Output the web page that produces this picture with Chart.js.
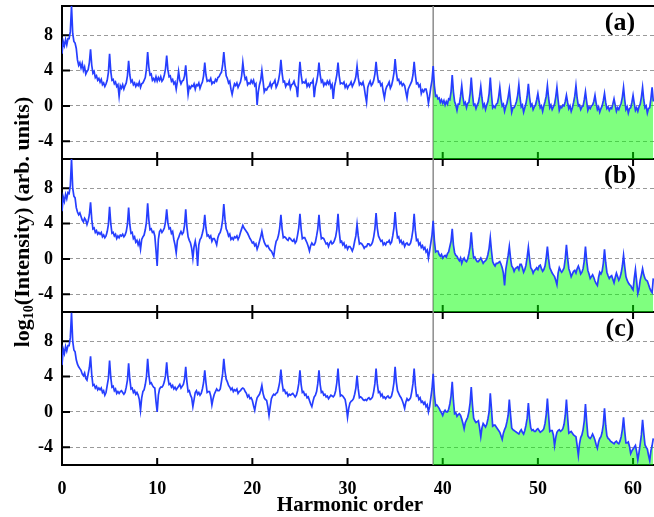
<!DOCTYPE html>
<html>
<head>
<meta charset="utf-8">
<script src="https://cdn.jsdelivr.net/npm/chart.js@4.4.1/dist/chart.umd.min.js"></script>
<style>
  html, body { margin: 0; padding: 0; background: #fff; }
  #hhg { display: block; }
</style>
</head>
<body>
<canvas id="hhg" width="654" height="517"></canvas>
<script>
// spectra sampled every 1/8 harmonic from order 0; one row per harmonic order
var orderStep = 0.125;
var cutoffOrder = 39;

var spectrumA = [
  5.9, 7.3, 6.8, 7.5, 6.9, 7.6, 7.6, 8.4,
  11.3, 8.2, 7.3, 7.1, 6.5, 5.2, 4.6, 4.9,
  4.3, 4.8, 4.0, 4.4, 3.6, 3.9, 4.1, 4.9,
  6.4, 4.6, 3.7, 3.9, 3.2, 3.4, 2.9, 3.1,
  2.7, 3.0, 2.4, 2.6, 2.2, 2.5, 2.9, 3.8,
  5.9, 3.9, 2.9, 3.0, 2.5, 2.7, 2.2, 2.4,
  1.1, 2.3, 2.0, 2.4, 1.9, 2.3, 2.6, 3.4,
  5.1, 3.5, 2.7, 2.9, 2.4, 2.6, 2.2, 2.5,
  2.3, 2.7, 2.1, 2.5, 2.6, 2.9, 3.2, 4.2,
  6.1, 4.4, 3.5, 3.6, 2.9, 3.1, 2.8, 3.3,
  2.8, 3.2, 2.9, 3.3, 2.8, 3.0, 3.5, 4.2,
  5.7, 4.1, 3.3, 3.4, 2.8, 3.0, 2.5, 2.7,
  1.9, 2.8, 3.9, 2.9, 2.5, 2.8, 2.9, 3.4,
  4.6, 2.9, 1.3, 2.2, 2.0, 2.3, 2.2, 2.5,
  1.9, 2.4, 2.3, 2.6, 2.0, 2.4, 2.7, 3.4,
  4.9, 3.5, 2.8, 2.9, 2.8, 3.1, 2.5, 2.7,
  2.6, 3.0, 2.8, 3.2, 3.3, 3.6, 3.8, 4.6,
  6.1, 4.6, 3.4, 3.1, 2.6, 2.8, 1.9, 1.3,
  2.0, 2.5, 2.3, 2.6, 2.1, 2.4, 2.7, 3.4,
  4.9, 3.7, 3.0, 3.2, 2.4, 2.6, 2.5, 2.9,
  2.6, 2.9, 2.3, 2.5, 0.1, 1.6, 2.4, 2.9,
  4.0, 2.8, 1.6, 1.9, 1.8, 2.1, 2.2, 2.6,
  2.1, 2.5, 2.6, 2.9, 2.1, 2.4, 2.9, 3.7,
  5.2, 3.7, 2.7, 2.8, 2.2, 2.5, 2.4, 2.8,
  2.0, 2.4, 2.5, 2.8, 2.3, 2.1, 1.0, 3.2,
  5.0, 3.5, 2.6, 2.7, 2.6, 2.9, 2.2, 2.5,
  2.2, 2.6, 2.6, 2.9, 1.0, 2.2, 2.7, 3.5,
  4.9, 3.5, 2.7, 2.9, 2.3, 2.6, 2.4, 2.8,
  2.5, 2.8, 2.1, 2.4, 0.8, 2.2, 2.8, 3.5,
  4.9, 3.4, 2.5, 2.6, 2.5, 2.7, 2.1, 2.4,
  2.0, 2.3, 2.4, 2.7, 2.2, 2.5, 2.8, 3.3,
  4.5, 3.2, 2.4, 2.6, 2.4, 2.7, 2.1, 1.2,
  0.4, 2.1, 2.5, 2.8, 2.3, 2.5, 2.9, 3.6,
  5.0, 3.6, 2.7, 2.8, 2.3, 2.5, 1.6, 0.9,
  1.8, 2.2, 2.4, 2.7, 2.0, 2.3, 2.9, 3.7,
  5.3, 3.8, 2.9, 3.0, 2.5, 2.7, 2.3, 2.5,
  2.3, 1.6, 0.9, 1.9, 2.2, 2.5, 2.8, 3.5,
  5.0, 3.5, 2.5, 2.6, 2.2, 2.4, 1.4, 1.8,
  1.6, 1.9, 1.9, 1.3, 0.3, 1.1, 2.1, 2.9,
  4.5, 2.3, 1.1, 1.2, 0.8, 0.9, 0.4, 0.7,
  0.3, 0.6, 0.1, 0.5, 0.2, 0.8, 0.7, 1.6,
  3.5, 1.6, 0.5, 0.1, -0.5, 0.2, 0.2, 1.1,
  2.3, 1.0, 0.2, 0.4, -0.2, 0.3, 0.4, 1.4,
  3.2, 1.4, 0.1, 0.2, -0.3, 0.1, 0.4, 1.1,
  2.2, 0.9, -0.1, 0.2, -0.4, 0.1, 0.5, 1.4,
  3.2, 1.3, -0.2, 0.0, -0.2, 0.2, 0.3, 1.0,
  2.1, 0.8, 0.0, 0.2, -0.6, -0.1, 0.3, 1.0,
  1.9, 0.5, -0.7, -0.2, -0.2, 0.1, 0.5, 1.2,
  2.4, 0.9, -0.1, 0.1, -0.7, -0.2, 0.3, 1.1,
  2.5, 1.0, 0.0, 0.2, -0.4, -0.1, 0.1, 0.7,
  1.4, 0.5, -0.2, 0.0, -0.6, 0.0, 0.5, 1.1,
  2.3, 0.9, -0.2, 0.1, -0.4, -0.1, 0.2, 1.0,
  2.1, 0.7, -0.5, -0.1, -0.2, 0.1, 0.0, 0.5,
  1.2, 0.4, -0.3, 0.0, -0.6, -0.2, 0.4, 1.1,
  2.3, 0.9, 0.0, 0.1, -0.4, -0.1, 0.0, 0.7,
  1.6, 0.5, -0.5, -0.1, -0.3, 0.0, 0.1, 0.5,
  1.2, 0.3, -0.4, -0.1, -0.7, -0.3, 0.0, 0.6,
  1.4, 0.4, -0.3, -0.1, -0.5, -0.2, -0.3, 0.2,
  0.8, 0.1, -0.6, -0.2, -0.4, 0.0, 0.3, 1.0,
  2.1, 0.7, -0.4, -0.1, -0.8, -0.3, -0.2, 0.4,
  1.2, 0.3, -0.5, -0.2, -0.6, -0.1, 0.2, 1.0,
  2.1, 0.7, -0.2, 0.0, -0.8, -0.3, -0.2, 0.8,
  2.1, 0.5
];

var spectrumB = [
  5.4, 7.0, 6.5, 7.3, 6.8, 7.5, 7.4, 8.3,
  11.3, 8.0, 7.1, 6.9, 5.8, 5.3, 5.0, 5.2,
  4.8, 4.4, 4.2, 4.6, 4.4, 3.9, 4.3, 5.0,
  6.4, 4.5, 3.4, 3.5, 3.0, 3.2, 2.8, 3.0,
  2.8, 3.0, 2.5, 2.7, 2.4, 2.6, 3.1, 3.9,
  5.9, 4.0, 2.9, 3.0, 2.6, 2.8, 2.3, 2.6,
  2.4, 2.7, 2.6, 2.8, 2.5, 2.7, 3.1, 3.9,
  5.8, 3.9, 2.9, 3.0, 2.3, 2.5, 1.9, 2.1,
  1.6, 2.0, 1.1, 2.2, 2.5, 2.7, 3.3, 4.2,
  6.3, 4.4, 3.3, 3.4, 3.0, 3.1, 2.6, 1.0,
  -0.8, 2.2, 3.1, 3.3, 3.0, 3.2, 3.5, 4.2,
  5.6, 4.1, 3.4, 3.5, 2.9, 3.1, 2.2, 1.6,
  0.7, 2.1, 2.4, 2.8, 3.1, 2.8, 3.0, 3.8,
  5.6, 3.6, 2.5, 2.1, 1.8, 1.2, 0.1, 1.4,
  2.0, 1.2, -0.8, 1.6, 2.2, 2.4, 2.9, 3.5,
  5.0, 3.5, 2.6, 2.7, 2.4, 2.6, 2.0, 2.3,
  2.3, 2.0, 1.6, 2.4, 2.8, 3.0, 3.5, 4.4,
  6.2, 4.5, 3.4, 3.1, 2.6, 2.8, 2.2, 2.4,
  2.2, 2.5, 2.4, 2.6, 2.2, 2.5, 3.0, 3.4,
  3.8, 3.5, 3.3, 3.1, 2.9, 2.6, 2.3, 2.1,
  1.8, 1.9, 1.5, 1.7, 1.1, 1.5, 2.0, 2.5,
  3.1, 2.4, 1.9, 1.6, 1.4, 1.5, 1.2, 1.0,
  0.9, 0.6, 0.3, 1.3, 2.0, 2.2, 2.7, 3.5,
  5.0, 3.4, 2.4, 2.5, 2.4, 2.2, 2.1, 2.4,
  2.3, 2.1, 2.0, 2.2, 1.8, 2.0, 2.7, 3.5,
  5.1, 3.4, 2.3, 2.4, 2.4, 2.1, 1.8, 1.4,
  0.9, 1.5, 1.8, 1.6, 1.6, 1.9, 2.6, 3.4,
  5.0, 3.3, 2.3, 2.4, 2.3, 2.0, 1.7, 1.8,
  1.4, 1.8, 2.0, 1.7, 1.8, 2.1, 2.5, 3.3,
  5.1, 3.1, 1.9, 2.0, 1.6, 1.8, 1.3, 1.5,
  1.1, 1.4, 1.4, 1.2, 0.9, 1.3, 2.0, 2.6,
  3.9, 2.6, 1.7, 1.8, 1.7, 1.5, 1.2, 1.4,
  1.4, 1.7, 1.7, 1.5, 1.6, 1.9, 2.5, 3.4,
  5.2, 3.5, 2.6, 2.3, 2.0, 2.1, 1.6, 1.8,
  1.6, 1.9, 1.9, 2.1, 1.7, 1.9, 2.6, 3.5,
  5.3, 3.5, 2.4, 2.5, 1.9, 2.1, 1.7, 1.9,
  1.4, 1.7, 1.8, 1.6, 1.6, 1.8, 2.4, 3.3,
  5.1, 3.2, 2.1, 2.2, 1.6, 1.8, 1.3, 1.5,
  1.1, 1.3, 0.8, 1.0, 0.1, 0.9, 1.8, 2.7,
  4.3, 2.1, 0.8, 0.9, 0.9, 0.5, 0.3, 0.5,
  0.1, 0.3, 0.4, 0.2, 0.6, 0.8, 1.4, 2.0,
  3.4, 1.6, 0.7, 0.4, 0.3, 0.0, -0.2, 0.1,
  -0.5, -0.1, 0.1, -0.2, -0.3, 0.0, 0.6, 1.4,
  3.0, 1.3, 0.1, 0.2, -0.1, -0.3, -0.3, -0.1,
  0.1, -0.2, -0.5, -0.3, -0.2, 0.0, 0.5, 1.2,
  2.4, 0.9, -0.3, -0.6, -0.8, -0.5, -0.5, -0.4,
  -0.3, -0.6, -1.0, -1.6, -3.0, -1.2, -0.4, 0.4,
  1.4, 0.1, -0.8, -1.0, -1.4, -1.1, -1.0, -0.9,
  -1.2, -0.6, -0.6, -1.0, -1.5, -1.2, -0.7, 0.2,
  1.3, 0.0, -1.0, -1.2, -1.6, -1.3, -1.2, -1.0,
  -1.2, -0.8, -0.7, -1.1, -1.4, -1.2, -0.8, 0.1,
  1.4, 0.0, -1.0, -1.3, -1.6, -1.8, -2.0, -2.4,
  -2.9, -1.6, -1.0, -1.3, -1.5, -1.3, -1.0, 0.0,
  1.6, 0.1, -1.1, -1.5, -2.0, -1.7, -1.4, -1.3,
  -1.6, -1.1, -0.8, -1.2, -1.7, -1.5, -1.1, -0.2,
  1.4, -0.2, -1.3, -1.7, -2.2, -2.0, -1.8, -2.1,
  -2.5, -2.8, -3.0, -2.1, -1.5, -1.7, -1.4, -0.5,
  1.1, -0.4, -1.5, -1.9, -2.2, -2.0, -1.9, -2.3,
  -2.7, -2.1, -1.6, -2.0, -2.4, -2.1, -1.6, -0.8,
  0.4, -0.9, -2.0, -2.4, -2.7, -2.9, -3.0, -3.3,
  -3.5, -2.2, -1.2, -2.5, -3.9, -3.4, -2.4, -1.8,
  -1.1, -1.8, -2.2, -2.4, -2.5, -2.9, -3.3, -3.6,
  -3.8, -2.2
];

var spectrumC = [
  5.3, 7.1, 6.6, 7.4, 6.9, 7.5, 7.5, 8.4,
  11.2, 8.0, 7.0, 6.8, 5.9, 5.4, 5.1, 4.9,
  4.7, 4.3, 4.1, 4.4, 3.8, 3.6, 4.3, 5.0,
  6.3, 4.2, 3.0, 3.1, 2.7, 2.9, 2.5, 2.7,
  2.5, 2.7, 2.2, 2.4, 1.9, 2.2, 3.0, 3.8,
  5.8, 3.9, 2.8, 2.9, 2.4, 2.6, 2.1, 2.3,
  2.1, 2.3, 2.4, 2.2, 2.0, 2.2, 2.8, 3.6,
  5.5, 3.7, 2.6, 2.7, 2.2, 2.4, 2.0, 2.2,
  1.9, 1.4, 0.2, 1.6, 2.3, 2.5, 3.1, 4.0,
  6.0, 4.2, 3.2, 3.3, 3.0, 2.8, 2.7, 1.2,
  0.0, 1.9, 2.6, 2.8, 2.8, 3.0, 3.4, 4.1,
  5.6, 3.9, 3.1, 3.2, 2.8, 3.0, 2.6, 2.8,
  2.5, 2.7, 2.9, 3.1, 2.7, 2.9, 3.1, 3.7,
  5.1, 3.4, 2.3, 2.4, 1.9, 1.6, 0.6, 1.4,
  2.2, 2.4, 2.0, 2.2, 1.9, 2.1, 2.6, 3.3,
  4.7, 3.3, 2.2, 2.3, 2.3, 1.8, 0.8, 1.5,
  2.0, 2.3, 2.6, 2.4, 2.4, 2.6, 3.4, 4.3,
  6.0, 4.6, 3.7, 3.4, 3.0, 2.8, 2.5, 2.7,
  2.3, 2.5, 2.4, 2.6, 2.1, 2.3, 2.4, 2.6,
  2.7, 2.6, 2.3, 2.1, 1.7, 1.9, 1.5, 1.6,
  1.3, 0.7, 0.2, 1.0, 1.6, 1.8, 2.0, 2.4,
  3.0, 2.1, 1.6, 1.4, 1.3, 0.6, -0.4, 0.6,
  1.5, 1.8, 2.0, 1.9, 2.1, 2.2, 2.7, 3.4,
  4.8, 3.3, 2.4, 2.5, 2.1, 2.2, 1.8, 2.0,
  1.9, 2.0, 2.1, 1.9, 1.7, 1.9, 2.4, 3.2,
  4.7, 3.1, 2.2, 2.3, 1.9, 2.0, 1.6, 1.7,
  1.3, 0.9, 0.6, 1.2, 1.7, 1.9, 2.3, 3.2,
  4.7, 3.1, 2.2, 2.3, 1.9, 2.0, 1.7, 1.8,
  1.5, 1.7, 1.9, 1.8, 1.7, 1.9, 2.4, 3.3,
  4.9, 3.0, 1.8, 1.9, 1.8, 1.6, 1.4, 0.6,
  -0.6, 0.4, 1.0, 1.2, 1.3, 1.5, 2.0, 2.7,
  4.1, 2.6, 1.6, 1.7, 1.6, 1.4, 1.3, 1.4,
  1.3, 1.5, 1.6, 1.4, 1.5, 1.7, 2.3, 3.2,
  4.9, 3.2, 2.2, 2.3, 1.8, 2.0, 1.6, 1.7,
  1.5, 1.7, 1.8, 1.6, 1.6, 1.8, 2.4, 3.3,
  5.1, 3.4, 2.4, 2.1, 1.8, 1.6, 1.3, 0.9,
  0.4, 1.1, 1.5, 1.3, 1.4, 1.6, 2.3, 3.2,
  4.9, 3.0, 1.8, 1.9, 1.4, 1.6, 1.1, 1.2,
  0.9, 1.1, 0.6, 0.8, 0.0, 0.6, 1.6, 2.6,
  4.3, 2.0, 0.7, 0.8, 0.6, 0.4, 0.1, -0.1,
  -0.4, 0.0, 0.2, 0.0, 0.0, 0.3, 0.9, 1.8,
  3.4, 1.3, -0.2, -0.1, -0.5, -0.3, -0.2, -0.4,
  -0.8, -1.3, -1.9, -1.2, -0.9, -0.6, 0.0, 1.0,
  2.8, 0.8, -0.7, -1.0, -1.2, -1.1, -1.0, -1.8,
  -2.8, -1.8, -1.3, -1.5, -1.7, -1.4, -0.8, 0.0,
  2.1, 0.3, -1.6, -1.5, -1.5, -1.7, -1.9, -2.1,
  -2.3, -2.7, -3.1, -2.4, -2.0, -1.7, -1.1, -0.4,
  1.4, -0.3, -1.8, -2.0, -2.1, -2.2, -2.3, -2.4,
  -2.5, -2.2, -2.0, -2.3, -2.5, -2.1, -1.5, -0.7,
  1.0, -0.7, -1.8, -2.1, -2.0, -2.2, -2.2, -2.0,
  -1.9, -2.1, -2.3, -2.2, -2.1, -1.9, -1.3, -0.3,
  1.5, -0.4, -2.2, -2.1, -2.1, -2.6, -3.8, -2.9,
  -2.3, -2.1, -2.0, -2.2, -2.1, -1.9, -1.4, -0.4,
  1.4, -0.6, -2.4, -2.3, -2.2, -2.4, -2.6, -2.7,
  -2.8, -3.8, -4.9, -3.6, -2.9, -2.6, -2.0, -1.0,
  0.9, -1.1, -2.7, -2.9, -3.0, -2.8, -2.5, -2.8,
  -3.2, -3.7, -4.1, -3.4, -3.0, -2.8, -2.3, -1.4,
  0.4, -1.5, -2.7, -3.0, -3.1, -3.3, -3.4, -3.5,
  -3.6, -3.4, -3.3, -3.5, -3.6, -3.3, -2.8, -2.0,
  -0.6, -2.2, -3.5, -3.5, -3.4, -3.9, -4.7, -4.4,
  -4.2, -4.0, -3.8, -4.5, -5.4, -4.6, -3.6, -2.6,
  -0.9, -2.4, -3.7, -4.0, -4.2, -4.9, -5.5, -4.4,
  -3.8, -3.0
];

var xTickValues = [0, 10, 20, 30, 40, 50, 60];
var yTickValues = [-4, 0, 4, 8];
var panelLabels = ['(a)', '(b)', '(c)'];
var panelIds = ['yA', 'yB', 'yC'];

var xMin = 0, xMax = 62.2;
var yMin = -6, yMax = 11.3;

var serif = "'Liberation Serif', 'Times New Roman', serif";
var lineBlue = 'rgb(38, 62, 255)';
var fillGreen = 'rgba(0, 255, 0, 0.5)';

function toPoints(values) {
  return values.map(function(v, i) { return { x: i * orderStep, y: v }; });
}

var datasets = [];
[spectrumA, spectrumB, spectrumC].forEach(function(values, i) {
  var pts = toPoints(values);
  datasets.push({
    data: pts,
    yAxisID: panelIds[i],
    borderColor: lineBlue,
    borderWidth: 1.7,
    fill: false,
    order: 1
  });
  // shaded part above the cutoff order
  datasets.push({
    data: pts.filter(function(p) { return p.x >= cutoffOrder; }),
    yAxisID: panelIds[i],
    borderColor: 'transparent',
    borderWidth: 0,
    backgroundColor: fillGreen,
    fill: 'start',
    order: 2
  });
});

function panelScale(weight) {
  return {
    type: 'linear',
    position: 'left',
    stack: 'panels',
    weight: weight,
    min: yMin,
    max: yMax,
    afterBuildTicks: function(s) {
      s.ticks = yTickValues.map(function(v) { return { value: v }; });
    },
    afterFit: function(s) {
      s.width = 62;
      s.paddingTop = 0;
      s.paddingBottom = 0;
    },
    grid: { color: '#9a9a9a', lineWidth: 1, drawTicks: false },
    border: { display: false, dash: [4, 3] },
    ticks: {
      color: '#000',
      padding: 9,
      font: { family: serif, size: 18, weight: 'bold' }
    }
  };
}

var panelFrame = {
  id: 'panelFrame',
  beforeDatasetsDraw: function(chart) {
    var ctx = chart.ctx, area = chart.chartArea, xs = chart.scales.x;
    ctx.save();
    ctx.strokeStyle = '#000';
    ctx.lineWidth = 2;
    panelIds.forEach(function(id, i) {
      var s = chart.scales[id];
      ctx.beginPath();
      ctx.moveTo(area.right, s.top);
      ctx.lineTo(area.left, s.top);
      ctx.lineTo(area.left, s.bottom);
      ctx.lineTo(area.right, s.bottom);
      ctx.stroke();

      ctx.beginPath();
      yTickValues.forEach(function(v) {
        var py = s.getPixelForValue(v);
        ctx.moveTo(area.left, py);
        ctx.lineTo(area.left + 8, py);
      });
      xTickValues.forEach(function(v) {
        if (v === xMin) return;
        var px = xs.getPixelForValue(v);
        ctx.moveTo(px, s.bottom);
        ctx.lineTo(px, s.bottom - 7);
        if (i > 0) {
          ctx.moveTo(px, s.top);
          ctx.lineTo(px, s.top + 7);
        }
      });
      ctx.stroke();
    });

    // cutoff marker
    var cx = xs.getPixelForValue(cutoffOrder);
    ctx.strokeStyle = '#8c8c8c';
    ctx.lineWidth = 1.5;
    ctx.beginPath();
    ctx.moveTo(cx, area.top);
    ctx.lineTo(cx, area.bottom);
    ctx.stroke();
    ctx.restore();
  },
  afterDatasetsDraw: function(chart) {
    var ctx = chart.ctx;
    ctx.save();
    ctx.fillStyle = '#000';
    ctx.font = 'bold 26px ' + serif;
    ctx.textAlign = 'center';
    ctx.textBaseline = 'alphabetic';
    panelIds.forEach(function(id, i) {
      var s = chart.scales[id];
      ctx.fillText(panelLabels[i], 620, s.top + 24);
    });
    ctx.restore();
  },
  afterDraw: function(chart) {
    var ctx = chart.ctx;
    ctx.save();
    ctx.fillStyle = '#000';

    // x axis title
    ctx.font = 'bold 21px ' + serif;
    ctx.textAlign = 'center';
    ctx.textBaseline = 'alphabetic';
    ctx.fillText('Harmonic order', 350, 511);

    // y axis title with subscript
    var mainFont = 'bold 22px ' + serif;
    var subFont = 'bold 14px ' + serif;
    ctx.translate(29, 222);
    ctx.rotate(-Math.PI / 2);
    ctx.textAlign = 'left';
    ctx.font = mainFont;
    var w1 = ctx.measureText('log').width;
    var w3 = ctx.measureText('(Intensity) (arb. units)').width;
    ctx.font = subFont;
    var w2 = ctx.measureText('10').width;
    var x0 = -(w1 + w2 + w3) / 2;
    ctx.font = mainFont;
    ctx.fillText('log', x0, 0);
    ctx.font = subFont;
    ctx.fillText('10', x0 + w1, 4);
    ctx.font = mainFont;
    ctx.fillText('(Intensity) (arb. units)', x0 + w1 + w2, 0);
    ctx.restore();
  }
};

var chart = new Chart(document.getElementById('hhg').getContext('2d'), {
  type: 'line',
  data: { datasets: datasets },
  options: {
    responsive: false,
    animation: false,
    devicePixelRatio: 1,
    layout: { padding: { top: 6, left: 0, right: 0, bottom: 0 } },
    plugins: { legend: { display: false }, tooltip: { enabled: false } },
    elements: { point: { radius: 0 }, line: { tension: 0 } },
    scales: {
      x: {
        type: 'linear',
        min: xMin,
        max: xMax,
        afterBuildTicks: function(s) {
          s.ticks = xTickValues.map(function(v) { return { value: v }; });
        },
        afterFit: function(s) {
          s.height = 52;
          s.paddingLeft = 0;
          s.paddingRight = 0;
        },
        grid: { display: false },
        border: { display: false },
        ticks: {
          color: '#000',
          padding: 6,
          maxRotation: 0,
          autoSkip: false,
          font: { family: serif, size: 18, weight: 'bold' }
        }
      },
      yA: panelScale(3),
      yB: panelScale(2),
      yC: panelScale(1)
    }
  },
  plugins: [panelFrame]
});
</script>
</body>
</html>
